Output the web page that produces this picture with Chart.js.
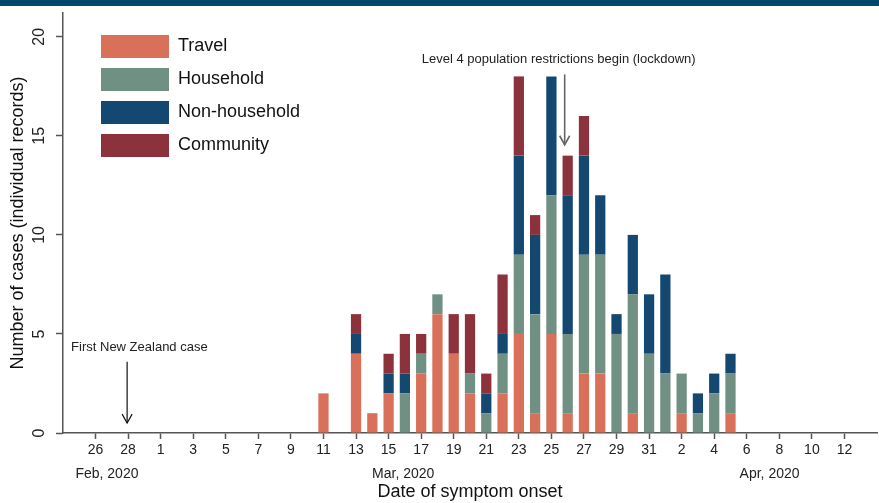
<!DOCTYPE html>
<html>
<head>
<meta charset="utf-8">
<script src="https://cdn.jsdelivr.net/npm/chart.js@4.4.1/dist/chart.umd.min.js"></script>
<style>
html,body{margin:0;padding:0;background:#fff;}
#wrap{width:879px;height:503px;position:relative;}
canvas{display:block;}
</style>
</head>
<body>
<div id="wrap"><canvas id="c" width="879" height="503"></canvas></div>
<script>
// ---- Data ----
const dates = [
 'Feb 24','Feb 25','Feb 26','Feb 27','Feb 28','Feb 29',
 'Mar 1','Mar 2','Mar 3','Mar 4','Mar 5','Mar 6','Mar 7','Mar 8','Mar 9','Mar 10',
 'Mar 11','Mar 12','Mar 13','Mar 14','Mar 15','Mar 16','Mar 17','Mar 18','Mar 19','Mar 20',
 'Mar 21','Mar 22','Mar 23','Mar 24','Mar 25','Mar 26','Mar 27','Mar 28','Mar 29','Mar 30','Mar 31',
 'Apr 1','Apr 2','Apr 3','Apr 4','Apr 5','Apr 6','Apr 7','Apr 8','Apr 9','Apr 10','Apr 11','Apr 12','Apr 13','Apr 14'
];
const travel = [
 0,0,0,0,0,0,0,0,0,0,
 0,0,0,0,0,0,2,0,4,1,
 2,0,3,6,4,2,0,2,5,1,
 5,1,3,3,0,1,0,0,1,0,
 0,1,0,0,0,0,0,0,0,0,
 0
];
const household = [
 0,0,0,0,0,0,0,0,0,0,
 0,0,0,0,0,0,0,0,0,0,
 0,2,1,1,0,1,1,2,4,5,
 7,4,6,6,5,6,4,3,2,1,
 2,2,0,0,0,0,0,0,0,0,
 0
];
const nonHousehold = [
 0,0,0,0,0,0,0,0,0,0,
 0,0,0,0,0,0,0,0,1,0,
 1,1,0,0,0,0,1,1,5,4,
 6,7,5,3,1,3,3,5,0,1,
 1,1,0,0,0,0,0,0,0,0,
 0
];
const community = [
 0,0,0,0,0,0,0,0,0,0,
 0,0,0,0,0,0,0,0,1,0,
 1,2,1,0,2,3,1,3,4,1,
 0,2,2,0,0,0,0,0,0,0,
 0,0,0,0,0,0,0,0,0,0,
 0
];
const seriesNames = ['Travel','Household','Non-household','Community'];
const yTicks = [0,5,10,15,20];
const monthLabels = ['Feb, 2020','Mar, 2020','Apr, 2020'];
const monthLabelAt = [2.7, 20.9, 43.4]; // in day-index units along the date axis
const annotationText = ['Level 4 population restrictions begin (lockdown)','First New Zealand case'];
const annotationDate = ['Mar 26','Feb 28'];

// ---- Styling ----
const colors = ['#d8705a','#6f9083','#144870','#8c323c'];
const FONT = '"Liberation Sans", Arial, Helvetica, sans-serif';
Chart.defaults.font.family = FONT;
Chart.defaults.color = '#222';

function showTick(i){ return i % 2 === 0 && i >= 2 && i <= 48; }

const topBanner = {
  id:'topBanner',
  beforeDraw(chart){
    const ctx = chart.ctx;
    ctx.save();
    ctx.fillStyle = '#00476d';
    ctx.fillRect(0,0,chart.width,6);
    ctx.restore();
  }
};

const legendShift = {
  id:'legendShift',
  afterLayout(chart){
    const l = chart.legend;
    if (l){
      const h = l.height;
      l.left += 28; l.right += 28;
      l.top = chart.chartArea.top + 12; l.bottom = l.top + h;
    }
  }
};

function arrow(ctx, x, y1, y2, color, w){
  ctx.save();
  ctx.strokeStyle = color; ctx.lineWidth = w;
  ctx.beginPath(); ctx.moveTo(x,y1); ctx.lineTo(x,y2); ctx.stroke();
  ctx.beginPath(); ctx.moveTo(x-5,y2-9); ctx.lineTo(x,y2); ctx.lineTo(x+5,y2-9); ctx.stroke();
  ctx.restore();
}

const annotations = {
  id:'annotations',
  afterDraw(chart){
    const {ctx, scales:{x,y}} = chart;
    const layout = [
      {dx:-3, textDx:-6, align:'center', textY:18.85, from:18.1, to:14.55, color:'#666', textColor:'#222', w:1.6},
      {dx:-1, textDx:-56, align:'left', textY:4.33, from:3.6, to:0.5, color:'#111', textColor:'#222', w:1.2}
    ];
    annotationText.forEach((t,i)=>{
      const L = layout[i];
      const ax = x.getPixelForValue(dates.indexOf(annotationDate[i])) + L.dx;
      ctx.save();
      ctx.font = '13px ' + FONT;
      ctx.fillStyle = L.textColor;
      ctx.textAlign = L.align;
      ctx.textBaseline = 'middle';
      ctx.fillText(t, ax + L.textDx, y.getPixelForValue(L.textY));
      ctx.restore();
      arrow(ctx, ax, y.getPixelForValue(L.from), y.getPixelForValue(L.to), L.color, L.w);
    });
  }
};

const seriesData = [travel, household, nonHousehold, community];

new Chart(document.getElementById('c'), {
  type:'bar',
  data:{
    labels: dates,
    datasets: seriesNames.map((n,i)=>({
      label:n, data:seriesData[i], backgroundColor:colors[i], borderWidth:0
    }))
  },
  options:{
    responsive:false, animation:false, devicePixelRatio:1,
    layout:{padding:{left:0,right:2,top:13,bottom:0}},
    datasets:{bar:{categoryPercentage:1, barPercentage:0.63}},
    plugins:{
      legend:{
        position:'chartArea', align:'start',
        labels:{boxWidth:68, boxHeight:23, padding:10, color:'#111', font:{size:18}}
      },
      tooltip:{enabled:false}
    },
    scales:{
      x:{
        type:'category', stacked:true, offset:false, position:'bottom', weight:0,
        grid:{display:true, drawOnChartArea:false, drawTicks:true, tickLength:6, tickWidth:1.5, offset:false,
              tickColor:(c)=> showTick(c.index) ? '#555' : 'rgba(0,0,0,0)'},
        border:{display:true, color:'#555', width:1.5},
        ticks:{autoSkip:false, maxRotation:0, minRotation:0, padding:3, font:{size:14}, color:'#222',
               callback:(v,i)=> showTick(i) ? dates[i].split(' ')[1] : ''},
        afterFit:(s)=>{ s.height = 28; s.paddingLeft = 0; s.paddingRight = 0; }
      },
      x2:{
        type:'linear', position:'bottom', weight:1, min:0, max:dates.length-1, offset:false,
        grid:{display:false, drawTicks:false}, border:{display:false},
        afterBuildTicks:(s)=>{ s.ticks = monthLabelAt.map(v=>({value:v})); },
        ticks:{autoSkip:false, maxRotation:0, minRotation:0, padding:5, font:{size:14}, color:'#222',
               callback:(v,i)=> monthLabels[i]},
        title:{display:true, text:'Date of symptom onset', color:'#111', font:{size:18}, padding:{top:0,bottom:0}},
        afterFit:(s)=>{ s.height = 42; s.paddingLeft = 0; s.paddingRight = 0; }
      },
      y:{
        stacked:true, min:0, max:21.2,
        afterBuildTicks:(s)=>{ s.ticks = yTicks.map(v=>({value:v})); },
        grid:{drawOnChartArea:false, tickLength:7, tickWidth:1.5, tickColor:'#555'},
        border:{display:true, color:'#555', width:1.5},
        ticks:{minRotation:90, maxRotation:90, crossAlign:'center', padding:8, font:{size:16}, color:'#222'},
        title:{display:true, text:'Number of cases (individual records)', color:'#111', font:{size:18}, padding:{top:7,bottom:0}},
        afterFit:(s)=>{ s.width = 63; s.paddingTop = 0; s.paddingBottom = 0; }
      }
    }
  },
  plugins:[topBanner, legendShift, annotations]
});
</script>
</body>
</html>
